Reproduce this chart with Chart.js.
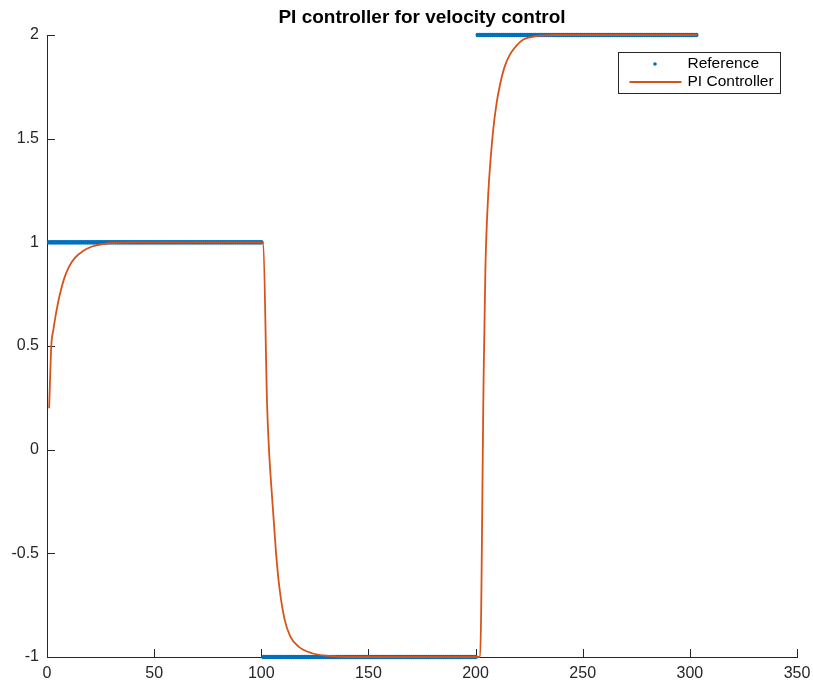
<!DOCTYPE html>
<html>
<head>
<meta charset="utf-8">
<script src="https://cdn.jsdelivr.net/npm/chart.js@4.4.1/dist/chart.umd.min.js"></script>
<style>
    html, body { margin: 0; padding: 0; background: #fff; }
    canvas { display: block; }
</style>
</head>
<body>
<canvas id="piChart" width="813" height="682"></canvas>
<script>
// Reference signal: constant levels over sample ranges
const refLevels = [1, -1, 2];
const refRanges = [[1, 100], [101, 200], [201, 303]];

// PI controller output
const piX = [1, 2, 3, 4, 5, 6, 8, 10, 13, 17, 21, 26, 32, 40, 100.9,
    102.7, 103.7, 104.7, 105.8, 106.9, 108.4, 110.9, 113.5, 117.4, 123.7, 131.4, 140, 202.1,
    203.8, 204.6, 205.9, 207, 208.3, 209.8, 211.4, 213.5, 216, 219, 222.3, 226, 230, 238, 303.3];
const piY = [0.2, 0.5, 0.58, 0.645, 0.7, 0.748, 0.825, 0.877, 0.925, 0.96, 0.98, 0.992, 0.998, 1, 1,
    0.22, -0.02, -0.18, -0.34, -0.5, -0.66, -0.82, -0.9, -0.95, -0.982, -0.995, -1, -1,
    0.38, 0.88, 1.23, 1.4, 1.55, 1.67, 1.76, 1.845, 1.905, 1.948, 1.978, 1.99, 1.997, 2, 2];

const xTicks = [0, 50, 100, 150, 200, 250, 300, 350];
const yTicks = [-1, -0.5, 0, 0.5, 1, 1.5, 2];

const titleText = "PI controller for velocity control";
const axisColor = "#262626";
const fontFamily = "'Liberation Sans', Arial, Helvetica, sans-serif";

const refPoints = [];
refRanges.forEach((r, i) => {
    for (let x = r[0]; x <= r[1]; x++) refPoints.push({ x: x, y: refLevels[i] });
});
const piPoints = piX.map((x, i) => ({ x: x, y: piY[i] }));

// inward tick marks, MATLAB style
const innerTicks = {
    id: "innerTicks",
    beforeDatasetsDraw(chart) {
        const { ctx, chartArea, scales } = chart;
        ctx.save();
        ctx.strokeStyle = axisColor;
        ctx.lineWidth = 1;
        ctx.beginPath();
        xTicks.forEach((v) => {
            const px = Math.round(scales.x.getPixelForValue(v)) + 0.5;
            ctx.moveTo(px, chartArea.bottom);
            ctx.lineTo(px, chartArea.bottom - 8);
        });
        yTicks.forEach((v) => {
            const py = Math.round(scales.y.getPixelForValue(v)) + 0.5;
            ctx.moveTo(chartArea.left, py);
            ctx.lineTo(chartArea.left + 8, py);
        });
        ctx.stroke();
        ctx.restore();
    },
};

// title centred over the axes, and boxed legend in the upper right
const titleAndLegend = {
    id: "titleAndLegend",
    afterDraw(chart) {
        const { ctx, chartArea } = chart;
        ctx.save();
        ctx.fillStyle = "#000";
        ctx.font = "bold 19px " + fontFamily;
        ctx.textAlign = "center";
        ctx.textBaseline = "middle";
        ctx.fillText(titleText, (chartArea.left + chartArea.right) / 2, 18);

        const ds = chart.data.datasets;
        const bx = chartArea.right - 178.5, by = chartArea.top + 17.5;
        const bw = 162, bh = 41;
        ctx.fillStyle = "#fff";
        ctx.fillRect(bx, by, bw, bh);
        ctx.strokeStyle = axisColor;
        ctx.lineWidth = 1;
        ctx.strokeRect(bx, by, bw, bh);

        ctx.fillStyle = ds[0].backgroundColor;
        ctx.beginPath();
        ctx.arc(bx + 36.5, by + 11.5, 1.8, 0, Math.PI * 2);
        ctx.fill();

        ctx.strokeStyle = ds[1].borderColor;
        ctx.lineWidth = 1.8;
        ctx.beginPath();
        ctx.moveTo(bx + 11, by + 29.5);
        ctx.lineTo(bx + 63, by + 29.5);
        ctx.stroke();

        ctx.fillStyle = "#000";
        ctx.font = "15.5px " + fontFamily;
        ctx.textAlign = "left";
        ctx.fillText(ds[0].label, bx + 69, by + 11.5);
        ctx.fillText(ds[1].label, bx + 69, by + 29.5);
        ctx.restore();
    },
};

document.addEventListener("DOMContentLoaded", function () {
    const ctx = document.getElementById("piChart");

    new Chart(ctx, {
        type: "line",
        data: {
            datasets: [
                {
                    label: "Reference",
                    data: refPoints,
                    showLine: false,
                    pointRadius: 2.3,
                    pointBorderWidth: 0,
                    backgroundColor: "#0072BD",
                    borderColor: "#0072BD",
                    clip: false,
                    order: 1,
                },
                {
                    label: "PI Controller",
                    data: piPoints,
                    borderColor: "#D95319",
                    backgroundColor: "#D95319",
                    borderWidth: 1.8,
                    pointRadius: 0,
                    cubicInterpolationMode: "monotone",
                    clip: false,
                    order: 0,
                },
            ],
        },
        options: {
            responsive: false,
            animation: false,
            devicePixelRatio: 1,
            layout: { padding: { top: 35, right: 16, left: 0, bottom: 0 } },
            plugins: {
                legend: { display: false },
                title: { display: false },
                tooltip: { enabled: false },
            },
            scales: {
                x: {
                    type: "linear",
                    min: 0,
                    max: 350,
                    afterBuildTicks: (s) => { s.ticks = xTicks.map((v) => ({ value: v })); },
                    afterFit: (s) => { s.height = 25; s.paddingLeft = 0; s.paddingRight = 0; },
                    grid: { display: false, drawTicks: false },
                    border: { display: true, color: axisColor, width: 1 },
                    ticks: {
                        autoSkip: false,
                        maxRotation: 0,
                        padding: 7,
                        color: axisColor,
                        font: { family: fontFamily, size: 16 },
                        callback: (v) => String(v),
                    },
                },
                y: {
                    type: "linear",
                    min: -1,
                    max: 2,
                    afterBuildTicks: (s) => { s.ticks = yTicks.map((v) => ({ value: v })); },
                    afterFit: (s) => { s.width = 47; s.paddingTop = 0; s.paddingBottom = 0; },
                    grid: { display: false, drawTicks: false },
                    border: { display: true, color: axisColor, width: 1 },
                    ticks: {
                        autoSkip: false,
                        padding: 8,
                        color: axisColor,
                        font: { family: fontFamily, size: 16 },
                        callback: (v) => String(v),
                    },
                },
            },
        },
        plugins: [innerTicks, titleAndLegend],
    });
});
</script>
</body>
</html>
